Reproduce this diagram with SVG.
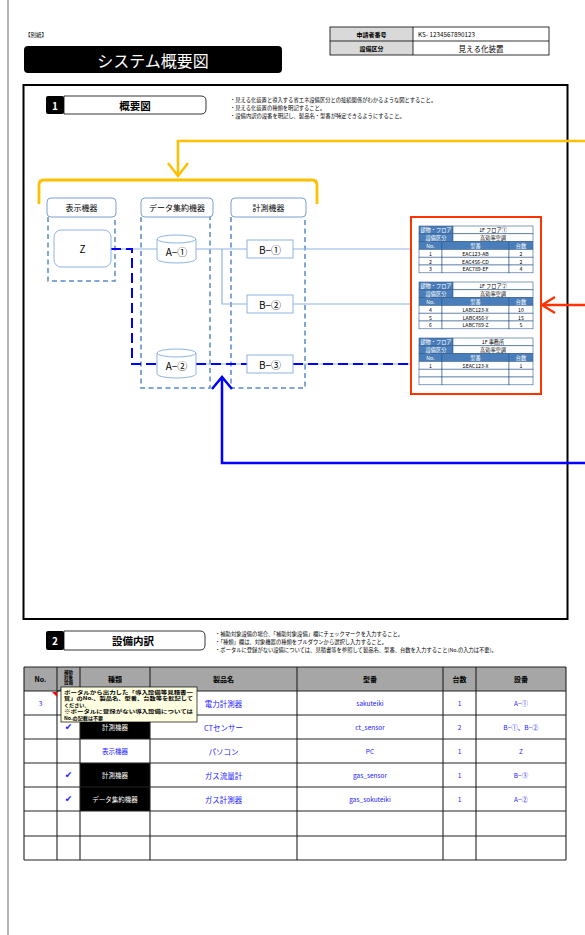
<svg xmlns="http://www.w3.org/2000/svg" width="585" height="935" viewBox="0 0 585 935">
<style>
text{font-family:"Noto Sans CJK JP","Liberation Sans",sans-serif;fill:#000}
.c{text-anchor:middle;dominant-baseline:central}
.note{font-size:5.3px}
.hdr{fill:#fff;stroke:#7ba0cd;stroke-width:1}
.grp{fill:none;stroke:#5b8bc8;stroke-width:1.5;stroke-dasharray:5,3.5}
.node{fill:#fff;stroke:#8eb4e3;stroke-width:1}
.thin{fill:none;stroke:#8eb4e3;stroke-width:1.2}
.bd{fill:none;stroke:#0000ff;stroke-width:2;stroke-dasharray:10,5}
.lab{font-size:8px}
.nt{font-size:10px}
.tb rect{stroke:#2f5a8f;stroke-width:0.6}
.tb .b{fill:#4a7ebb}
.tb .w{fill:#fff}
.tt{font-size:5.2px}
.tw{font-size:5.2px;fill:#fff}
.grid line{stroke:#222;stroke-width:1.1}
.bl{fill:#1a1aff;font-size:6.5px}
.bj{fill:#1a1aff;font-size:7.5px}
.ck{fill:#1a1aff;font-size:9px;font-family:"DejaVu Sans",sans-serif}
.wk{fill:#fff;font-size:6.5px}
.tip{font-size:5.1px;font-weight:bold}
</style>

<!-- page -->
<line x1="8" y1="0" x2="8" y2="935" stroke="#9a9a9a" stroke-width="1.5"/>
<text x="25" y="37" style="font-size:5.5px">【別紙】</text>
<g id="title">
<rect x="24" y="46" width="258" height="27" rx="4" fill="#000"/>
<text x="153" y="60" class="c" style="font-size:16px;fill:#fff">システム概要図</text>
</g>
<g id="header-table">
<rect x="330" y="27" width="83" height="28" fill="#d9d9d9"/>
<rect x="330" y="27" width="219" height="28" fill="none" stroke="#000" stroke-width="0.8"/>
<line x1="330" y1="41" x2="549" y2="41" stroke="#000" stroke-width="0.8"/>
<line x1="413" y1="27" x2="413" y2="55" stroke="#000" stroke-width="0.8"/>
<text x="371.5" y="34" class="c" style="font-size:6px;font-weight:bold">申請者番号</text>
<text x="371.5" y="48" class="c" style="font-size:6px;font-weight:bold">設備区分</text>
<text x="418" y="34" style="font-size:6.3px;dominant-baseline:central">KS-  1234567890123</text>
<text x="481" y="48" class="c" style="font-size:7.5px">見える化装置</text>
</g>

<!-- section 1 -->
<rect x="23.5" y="85" width="544" height="534" fill="none" stroke="#000" stroke-width="2"/>
<g id="sec1-head">
<path d="M64,96 H201 Q206,96 206,101 V109 Q206,114 201,114 H64 Z" fill="#fff" stroke="#000" stroke-width="0.8"/>
<rect x="46" y="96" width="18" height="18" rx="2" fill="#000"/>
<text x="55" y="105" class="c" style="font-size:10px;fill:#fff;font-weight:bold">1</text>
<text x="135" y="105" class="c" style="font-size:10.5px;font-weight:bold">概要図</text>
<text x="230" y="102" class="note">・見える化装置と導入する省エネ設備区分との接続関係がわかるような図とすること。</text>
<text x="230" y="110" class="note">・見える化装置の種類を明記すること。</text>
<text x="230" y="118" class="note">・設備内訳の設番を明記し、製品名・型番が特定できるようにすること。</text>
</g>

<!-- groups -->
<g id="grp-display">
<rect x="47" y="198" width="69" height="19" rx="4" class="hdr"/>
<text x="81.5" y="207.5" class="c lab">表示機器</text>
<path d="M48,217 V281 H115 V217" class="grp"/>
</g>
<g id="grp-data">
<rect x="141" y="198" width="72" height="19" rx="4" class="hdr"/>
<text x="177" y="207.5" class="c lab">データ集約機器</text>
<path d="M141,217 V388 H210 V217" class="grp"/>
</g>
<g id="grp-meter">
<rect x="231" y="198" width="75" height="19" rx="4" class="hdr"/>
<text x="268.5" y="207.5" class="c lab">計測機器</text>
<path d="M231,217 V388 H305 V217" class="grp"/>
</g>

<!-- connectors -->
<g id="connectors">
<path d="M111,249 H157 M196,249 H247 M293,249 H410 M222,249 V304 H247 M293,304 H410 M150,364 H157 M196,364 H247 M293,364 H410" class="thin"/>
<path d="M111,249 H132 V364 H157" class="bd"/>
<path d="M196,364 H247 M293,364 H410" class="bd"/>
<path d="M39,204 V185 Q39,180 44,180 H312 Q317,180 317,185 V204" fill="none" stroke="#ffc000" stroke-width="2.8"/>
<path d="M585,141 H178 V176 M168,163 L178,176 L188,163" fill="none" stroke="#ffc000" stroke-width="2.5"/>
<path d="M585,305 H542 M555,297 L542,305 L555,313" fill="none" stroke="#ff3300" stroke-width="2.3"/>
<path d="M585,463 H222 V377 M212,389 L222,377 L232,389" fill="none" stroke="#0000ff" stroke-width="2.5"/>
</g>

<!-- nodes -->
<g id="node-Z">
<rect x="54" y="230" width="57" height="37" rx="7" class="node"/>
<text x="82.5" y="248.5" class="c nt">Z</text>
</g>
<g id="node-A1">
<path d="M157,239 A19.5,4 0 0 1 196,239 V259 A19.5,4 0 0 1 157,259 Z M157,239 A19.5,4 0 0 0 196,239" class="node"/>
<text x="176.5" y="251" class="c nt">A−①</text>
</g>
<g id="node-A2">
<path d="M157,353 A19.5,4 0 0 1 196,353 V374 A19.5,4 0 0 1 157,374 Z M157,353 A19.5,4 0 0 0 196,353" class="node"/>
<text x="176.5" y="365" class="c nt">A−②</text>
</g>
<g id="node-B1">
<rect x="247" y="240" width="46" height="18" class="node"/>
<text x="270" y="249" class="c nt">B−①</text>
</g>
<g id="node-B2">
<rect x="247" y="295" width="46" height="18" class="node"/>
<text x="270" y="304" class="c nt">B−②</text>
</g>
<g id="node-B3">
<rect x="247" y="355" width="46" height="18" class="node"/>
<text x="270" y="364" class="c nt">B−③</text>
</g>

<!-- right tables -->
<g id="equip-box">
<rect x="411" y="217" width="130" height="177" fill="none" stroke="#ff3300" stroke-width="2"/>
</g>
<g id="tbl1" class="tb">
<rect x="419" y="226" width="34" height="7.8" class="b"/><rect x="453" y="226" width="80" height="7.8" class="w"/>
<rect x="419" y="233.8" width="34" height="7.8" class="b"/><rect x="453" y="233.8" width="80" height="7.8" class="w"/>
<rect x="419" y="241.6" width="23" height="7.8" class="b"/><rect x="442" y="241.6" width="67" height="7.8" class="b"/><rect x="509" y="241.6" width="24" height="7.8" class="b"/>
<rect x="419" y="249.4" width="23" height="7.8" class="w"/><rect x="442" y="249.4" width="67" height="7.8" class="w"/><rect x="509" y="249.4" width="24" height="7.8" class="w"/>
<rect x="419" y="257.2" width="23" height="7.8" class="w"/><rect x="442" y="257.2" width="67" height="7.8" class="w"/><rect x="509" y="257.2" width="24" height="7.8" class="w"/>
<rect x="419" y="265" width="23" height="7.8" class="w"/><rect x="442" y="265" width="67" height="7.8" class="w"/><rect x="509" y="265" width="24" height="7.8" class="w"/>
<text x="436" y="229.9" class="c tw">建物・フロア</text><text x="493" y="229.9" class="c tt">1F  フロア①</text>
<text x="436" y="237.7" class="c tw">設備区分</text><text x="493" y="237.7" class="c tt">高効率空調</text>
<text x="430.5" y="245.5" class="c tw">No.</text><text x="475.5" y="245.5" class="c tw">型番</text><text x="521" y="245.5" class="c tw">台数</text>
<text x="430.5" y="253.3" class="c tt">1</text><text x="475.5" y="253.3" class="c tt">EAC123-AB</text><text x="521" y="253.3" class="c tt">2</text>
<text x="430.5" y="261.1" class="c tt">2</text><text x="475.5" y="261.1" class="c tt">EAC456-CD</text><text x="521" y="261.1" class="c tt">2</text>
<text x="430.5" y="268.9" class="c tt">3</text><text x="475.5" y="268.9" class="c tt">EAC789-EF</text><text x="521" y="268.9" class="c tt">4</text>
</g>
<g id="tbl2" class="tb">
<rect x="419" y="282" width="34" height="7.8" class="b"/><rect x="453" y="282" width="80" height="7.8" class="w"/>
<rect x="419" y="289.8" width="34" height="7.8" class="b"/><rect x="453" y="289.8" width="80" height="7.8" class="w"/>
<rect x="419" y="297.6" width="23" height="7.8" class="b"/><rect x="442" y="297.6" width="67" height="7.8" class="b"/><rect x="509" y="297.6" width="24" height="7.8" class="b"/>
<rect x="419" y="305.4" width="23" height="7.8" class="w"/><rect x="442" y="305.4" width="67" height="7.8" class="w"/><rect x="509" y="305.4" width="24" height="7.8" class="w"/>
<rect x="419" y="313.2" width="23" height="7.8" class="w"/><rect x="442" y="313.2" width="67" height="7.8" class="w"/><rect x="509" y="313.2" width="24" height="7.8" class="w"/>
<rect x="419" y="321" width="23" height="7.8" class="w"/><rect x="442" y="321" width="67" height="7.8" class="w"/><rect x="509" y="321" width="24" height="7.8" class="w"/>
<text x="436" y="285.9" class="c tw">建物・フロア</text><text x="493" y="285.9" class="c tt">1F  フロア②</text>
<text x="436" y="293.7" class="c tw">設備区分</text><text x="493" y="293.7" class="c tt">高効率空調</text>
<text x="430.5" y="301.5" class="c tw">No.</text><text x="475.5" y="301.5" class="c tw">型番</text><text x="521" y="301.5" class="c tw">台数</text>
<text x="430.5" y="309.3" class="c tt">4</text><text x="475.5" y="309.3" class="c tt">LABC123-X</text><text x="521" y="309.3" class="c tt">10</text>
<text x="430.5" y="317.1" class="c tt">5</text><text x="475.5" y="317.1" class="c tt">LABC456-Y</text><text x="521" y="317.1" class="c tt">15</text>
<text x="430.5" y="324.9" class="c tt">6</text><text x="475.5" y="324.9" class="c tt">LABC789-Z</text><text x="521" y="324.9" class="c tt">5</text>
</g>
<g id="tbl3" class="tb">
<rect x="419" y="338" width="34" height="7.8" class="b"/><rect x="453" y="338" width="80" height="7.8" class="w"/>
<rect x="419" y="345.8" width="34" height="7.8" class="b"/><rect x="453" y="345.8" width="80" height="7.8" class="w"/>
<rect x="419" y="353.6" width="23" height="7.8" class="b"/><rect x="442" y="353.6" width="67" height="7.8" class="b"/><rect x="509" y="353.6" width="24" height="7.8" class="b"/>
<rect x="419" y="361.4" width="23" height="7.8" class="w"/><rect x="442" y="361.4" width="67" height="7.8" class="w"/><rect x="509" y="361.4" width="24" height="7.8" class="w"/>
<rect x="419" y="369.2" width="23" height="7.8" class="w"/><rect x="442" y="369.2" width="67" height="7.8" class="w"/><rect x="509" y="369.2" width="24" height="7.8" class="w"/>
<rect x="419" y="377" width="23" height="7.8" class="w"/><rect x="442" y="377" width="67" height="7.8" class="w"/><rect x="509" y="377" width="24" height="7.8" class="w"/>
<text x="436" y="341.9" class="c tw">建物・フロア</text><text x="493" y="341.9" class="c tt">1F  事務所</text>
<text x="436" y="349.7" class="c tw">設備区分</text><text x="493" y="349.7" class="c tt">高効率空調</text>
<text x="430.5" y="357.5" class="c tw">No.</text><text x="475.5" y="357.5" class="c tw">型番</text><text x="521" y="357.5" class="c tw">台数</text>
<text x="430.5" y="365.3" class="c tt">1</text><text x="475.5" y="365.3" class="c tt">SEAC123-X</text><text x="521" y="365.3" class="c tt">1</text>
</g>

<!-- section 2 -->
<g id="sec2-head">
<path d="M64,631 H200 Q205,631 205,636 V645 Q205,650 200,650 H64 Z" fill="#fff" stroke="#000" stroke-width="0.8"/>
<rect x="46" y="631" width="18" height="19" rx="2" fill="#000"/>
<text x="55" y="640.5" class="c" style="font-size:10px;fill:#fff;font-weight:bold">2</text>
<text x="133" y="640.5" class="c" style="font-size:10.5px;font-weight:bold">設備内訳</text>
<text x="215" y="636" class="note">・補助対象設備の場合、「補助対象設備」欄にチェックマークを入力すること。</text>
<text x="215" y="644" class="note">・「種類」欄は、対象機器の種類をプルダウンから選択し入力すること。</text>
<text x="215" y="652" class="note">・ポータルに登録がない設備については、見積書等を参照して製品名、型番、台数を入力すること(No.の入力は不要)。</text>
</g>

<g id="equip-table">
<rect x="24" y="667" width="542" height="24" fill="#a6a6a6"/>
<rect x="80" y="715" width="70" height="24" fill="#000"/>
<rect x="80" y="763" width="70" height="24" fill="#000"/>
<rect x="80" y="787" width="70" height="24" fill="#000"/>
<g class="grid">
<line x1="24" y1="667" x2="566" y2="667"/><line x1="24" y1="691" x2="566" y2="691"/><line x1="24" y1="715" x2="566" y2="715"/>
<line x1="24" y1="739" x2="566" y2="739"/><line x1="24" y1="763" x2="566" y2="763"/><line x1="24" y1="787" x2="566" y2="787"/>
<line x1="24" y1="811" x2="566" y2="811"/><line x1="24" y1="836" x2="566" y2="836"/><line x1="24" y1="860" x2="566" y2="860"/>
<line x1="24" y1="667" x2="24" y2="860"/><line x1="57" y1="667" x2="57" y2="860"/><line x1="80" y1="667" x2="80" y2="860"/>
<line x1="150" y1="667" x2="150" y2="860"/><line x1="297" y1="667" x2="297" y2="860"/><line x1="443" y1="667" x2="443" y2="860"/>
<line x1="476" y1="667" x2="476" y2="860"/><line x1="566" y1="667" x2="566" y2="860"/>
</g>
<text x="40.5" y="679" class="c" style="font-size:7px;font-weight:bold">No.</text>
<text x="68.5" y="672" class="c" style="font-size:4.5px;font-weight:bold">補助</text>
<text x="68.5" y="677" class="c" style="font-size:4.5px;font-weight:bold">対象</text>
<text x="68.5" y="682" class="c" style="font-size:4.5px;font-weight:bold">設備</text>
<text x="115" y="679" class="c" style="font-size:7px;font-weight:bold">種類</text>
<text x="223.5" y="679" class="c" style="font-size:7px;font-weight:bold">製品名</text>
<text x="370" y="679" class="c" style="font-size:7px;font-weight:bold">型番</text>
<text x="459.5" y="679" class="c" style="font-size:7px;font-weight:bold">台数</text>
<text x="521" y="679" class="c" style="font-size:7px;font-weight:bold">設番</text>

<text x="40.5" y="703" class="c bl">3</text>
<text x="223.5" y="703" class="c bj">電力計測器</text>
<text x="370" y="703" class="c bl">sakuteiki</text>
<text x="459.5" y="703" class="c bl">1</text>
<text x="521" y="703" class="c bl">A−①</text>

<text x="68.5" y="727" class="c ck">✔</text>
<text x="115" y="727" class="c wk">計測機器</text>
<text x="223.5" y="727" class="c bj">CTセンサー</text>
<text x="370" y="727" class="c bl">ct_sensor</text>
<text x="459.5" y="727" class="c bl">2</text>
<text x="521" y="727" class="c bl">B−①、B−②</text>

<text x="115" y="751" class="c bl">表示機器</text>
<text x="223.5" y="751" class="c bj">パソコン</text>
<text x="370" y="751" class="c bl">PC</text>
<text x="459.5" y="751" class="c bl">1</text>
<text x="521" y="751" class="c bl">Z</text>

<text x="68.5" y="775" class="c ck">✔</text>
<text x="115" y="775" class="c wk">計測機器</text>
<text x="223.5" y="775" class="c bj">ガス流量計</text>
<text x="370" y="775" class="c bl">gas_sensor</text>
<text x="459.5" y="775" class="c bl">1</text>
<text x="521" y="775" class="c bl">B−③</text>

<text x="68.5" y="799" class="c ck">✔</text>
<text x="115" y="799" class="c wk">データ集約機器</text>
<text x="223.5" y="799" class="c bj">ガス計測器</text>
<text x="370" y="799" class="c bl">gas_sokuteiki</text>
<text x="459.5" y="799" class="c bl">1</text>
<text x="521" y="799" class="c bl">A−②</text>
</g>

<g id="tooltip">
<polygon points="52,692 57,692 57,697" fill="#ff0000"/>
<line x1="57" y1="692" x2="62" y2="689" stroke="#000" stroke-width="0.6"/>
<rect x="61" y="687" width="136" height="35" fill="#ffffe1" stroke="#000" stroke-width="0.7"/>
<text x="64" y="693.5" class="tip" textLength="129" lengthAdjust="spacingAndGlyphs">ポータルから出力した「導入設備等見積書一</text>
<text x="64" y="700" class="tip" textLength="129" lengthAdjust="spacingAndGlyphs">覧」のNo.、製品名、型番、台数等を転記して</text>
<text x="64" y="706.5" class="tip">ください。</text>
<text x="64" y="713" class="tip" textLength="129" lengthAdjust="spacingAndGlyphs">※ポータルに登録がない導入設備については</text>
<text x="64" y="719.5" class="tip">No.の記載は不要</text>
</g>
</svg>
